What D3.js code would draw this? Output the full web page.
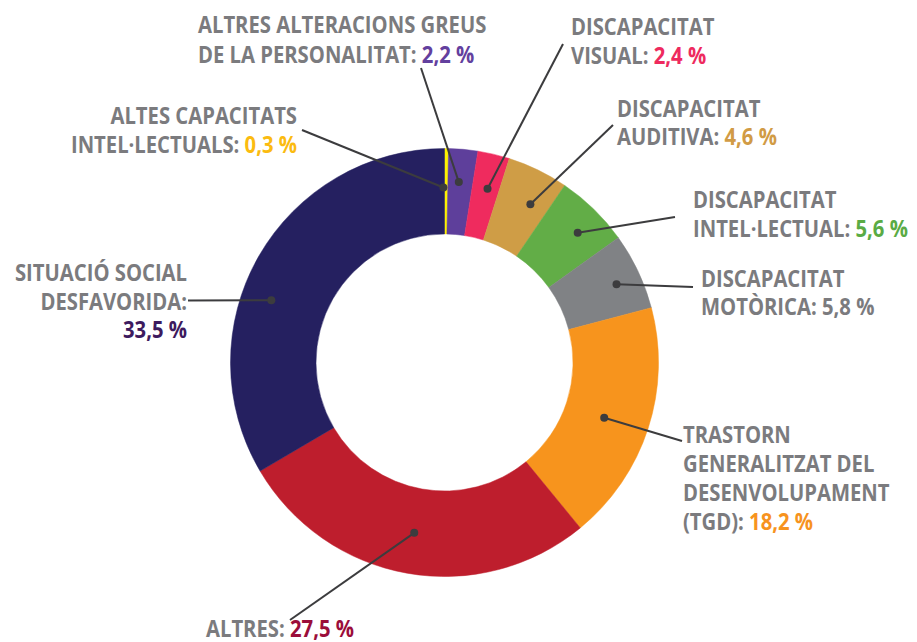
<!DOCTYPE html>
<html>
<head>
<meta charset="utf-8">
<script src="https://cdn.jsdelivr.net/npm/d3@7"></script>
<style>
  html, body { margin: 0; padding: 0; background: #fff; }
  svg text { font-family: "Open Sans", "Liberation Sans", sans-serif; font-weight: bold; }
</style>
</head>
<body>
<div id="chart"></div>
<script>
const width = 917;
const height = 642;

// data, clockwise from 12 o'clock
const categories = [
  'Altes capacitats intel·lectuals',
  'Altres alteracions greus de la personalitat',
  'Discapacitat visual',
  'Discapacitat auditiva',
  'Discapacitat intel·lectual',
  'Discapacitat motòrica',
  'Trastorn generalitzat del desenvolupament (TGD)',
  'Altres',
  'Situació social desfavorida',
];
const values = [0.3, 2.2, 2.4, 4.6, 5.6, 5.8, 18.2, 27.5, 33.5];
const sliceColors = ['#fff200', '#5e3f9b', '#ef2b5e', '#cf9d46', '#62ad47', '#808285', '#f7941d', '#be1e2d', '#252060'];
const valueColors = ['#fbbb10', '#63409e', '#ee2a5e', '#d19b45', '#5aab44', '#7b7b7e', '#f7931e', '#9b0d3a', '#3d1a5e'];

// label text lines; '%' marks where the value goes
const labelLines = [
  ['ALTES CAPACITATS', 'INTEL·LECTUALS: %'],
  ['ALTRES ALTERACIONS GREUS', 'DE LA PERSONALITAT: %'],
  ['DISCAPACITAT', 'VISUAL: %'],
  ['DISCAPACITAT', 'AUDITIVA: %'],
  ['DISCAPACITAT', 'INTEL·LECTUAL: %'],
  ['DISCAPACITAT', 'MOTÒRICA: %'],
  ['TRASTORN', 'GENERALITZAT DEL', 'DESENVOLUPAMENT', '(TGD): %'],
  ['ALTRES: %'],
  ['SITUACIÓ SOCIAL', 'DESFAVORIDA:', '%'],
];

// label layout: text anchor point, leader end, dot radius and angle shift (deg)
const labelLayout = [
  { x: 297, y: 124, anchor: 'end', lh: 28.5, lx: 302, ly: 130, dr: 175, da: -0.9 },
  { x: 198, y: 33, anchor: 'start', lh: 30, lx: 421, ly: 68, dr: 181, da: -0.5 },
  { x: 571, y: 35, anchor: 'start', lh: 29, lx: 563, ly: 44, dr: 179, da: 0.6 },
  { x: 617, y: 117, anchor: 'start', lh: 28, lx: 613, ly: 125, dr: 180, da: 2.6 },
  { x: 693, y: 208, anchor: 'start', lh: 28.5, lx: 675, ly: 217, dr: 186, da: 1.5 },
  { x: 701, y: 287, anchor: 'start', lh: 28, lx: 693, ly: 287, dr: 189, da: 0.8 },
  { x: 683, y: 443, anchor: 'start', lh: 29, lx: 682, ly: 441, dr: 169, da: 1.2 },
  { x: 206, y: 637, anchor: 'start', lh: 28, lx: 290, ly: 620, dr: 173, da: 0 },
  { x: 187, y: 281, anchor: 'end', lh: 28.5, lx: 188, ly: 300.5, dr: 184, da: -10 },
];

const cx = 444.5;
const cy = 362.5;
const outerR = 214;
const innerR = 128.5;
const labelGray = '#7b7b7e';
const leaderColor = '#3c3c3e';
const fontSize = 22.5;
const squeeze = 0.9; // the original face is narrower than Open Sans

const formatPct = (v) => d3.format('.1f')(v).replace('.', ',') + ' %';

const svg = d3.select('#chart').append('svg').attr('width', width).attr('height', height);

const rows = categories.map((c, i) => ({ name: c, value: values[i], i }));
const pie = d3.pie().value((d) => d.value).sort(null);
const arcs = pie(rows);
const arc = d3.arc().innerRadius(innerR).outerRadius(outerR);

const g = svg.append('g').attr('transform', `translate(${cx},${cy})`);

g.selectAll('path.slice')
  .data(arcs)
  .join('path')
  .attr('class', 'slice')
  .attr('d', arc)
  .attr('fill', (d) => sliceColors[d.data.i])
  .attr('stroke', (d) => sliceColors[d.data.i])
  .attr('stroke-width', 0.5);

// leader lines and dots
arcs.forEach((a) => {
  const L = labelLayout[a.data.i];
  const mid = (a.startAngle + a.endAngle) / 2 + (L.da * Math.PI) / 180;
  const px = Math.sin(mid) * L.dr;
  const py = -Math.cos(mid) * L.dr;
  g.append('line')
    .attr('x1', px)
    .attr('y1', py)
    .attr('x2', L.lx - cx)
    .attr('y2', L.ly - cy)
    .attr('stroke', leaderColor)
    .attr('stroke-width', 2);
  g.append('circle').attr('cx', px).attr('cy', py).attr('r', 4).attr('fill', leaderColor);
});

// labels
labelLines.forEach((lines, i) => {
  const L = labelLayout[i];
  lines.forEach((line, k) => {
    const t = svg
      .append('text')
      .attr('transform', `translate(${L.x},${L.y + k * L.lh}) scale(${squeeze},1)`)
      .attr('text-anchor', L.anchor)
      .style('font-size', `${fontSize}px`);
    const parts = line.split('%');
    if (parts.length > 1) {
      if (parts[0]) t.append('tspan').attr('fill', labelGray).text(parts[0]);
      t.append('tspan').attr('fill', valueColors[i]).text(formatPct(values[i]));
    } else {
      t.append('tspan').attr('fill', labelGray).text(line);
    }
  });
});
</script>
</body>
</html>
